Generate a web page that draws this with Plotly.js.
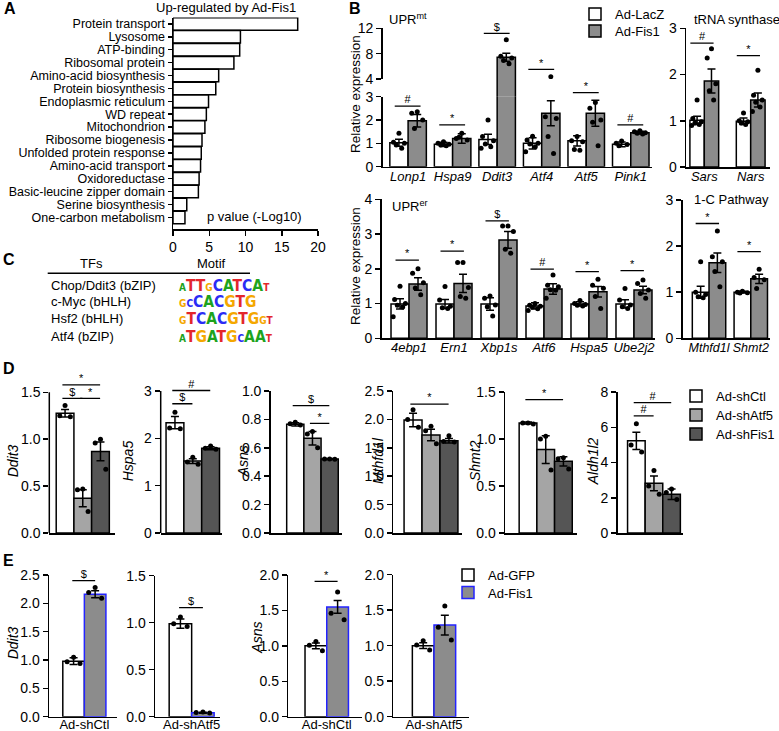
<!DOCTYPE html>
<html><head><meta charset="utf-8">
<script src="https://cdn.plot.ly/plotly-3.0.1.min.js"></script>
<style>html,body{margin:0;padding:0;background:#fff;}#chart{width:779px;height:731px;}</style>
</head><body><div id="chart"></div>
<script>
// ======================= DATA =======================
// Panel A: DAVID terms up-regulated by Ad-Fis1
const aTerms = ["Protein transport","Lysosome","ATP-binding","Ribosomal protein","Amino-acid biosynthesis","Protein biosynthesis","Endoplasmic reticulum","WD repeat","Mitochondrion","Ribosome biogenesis","Unfolded protein response","Amino-acid transport","Oxidoreductase","Basic-leucine zipper domain","Serine biosynthesis","One-carbon metabolism"];
const aNegLog10P = [17.2,9.3,9.2,8.4,6.3,5.9,4.9,4.6,4.4,4.0,3.9,3.8,3.6,3.5,1.9,1.65];
const aTicks = [0,5,10,15,20];

// Panel B: UPRmt
const mtGenes = ["Lonp1","Hspa9","Ddit3","Atf4","Atf5","Pink1"];
const mtLacZ = [1.03,0.96,1.17,1.00,1.11,0.96];
const mtLacZSem = [0.15,0.09,0.22,0.24,0.22,0.10];
const mtFis1 = [1.97,1.21,7.42,2.29,2.29,1.46];
const mtFis1Sem = [0.27,0.20,0.63,0.54,0.56,0.06];
const mtLacZPts = [[1.43,1.05,1.0,0.93,0.79],[1.07,1.0,0.96,0.93,0.9],[2.0,1.29,1.11,0.97,0.86,0.79],[1.31,1.14,1.0,0.97,0.86,0.64],[1.29,1.11,1.07,0.74,0.71],[1.1,1.0,0.95,0.9]];
const mtFis1Pts = [[2.36,2.29,2.0,1.64],[1.43,1.21,1.14,1.26],[10.2,7.6,7.3,6.9,6.4],[4.37,2.14,2.07,1.29,0.57],[2.75,2.5,2.0,1.9,0.9],[1.54,1.5,1.46,1.43,1.4]];
const mtSigSym = ["#","*","$","*","*","#"];
const mtSigLevel = [2.6,1.79,11.2,5.53,3.23,1.79];
const mtTicksLow = [0,1,2,3];
const mtTicksHigh = [4,8,12];

// Panel B: tRNA synthase
const trGenes = ["Sars","Nars"];
const trLacZ = [1.01,0.99];
const trLacZSem = [0.09,0.07];
const trFis1 = [1.86,1.45];
const trFis1Sem = [0.26,0.15];
const trLacZPts = [[1.45,1.05,0.98,0.95,0.92,0.9],[1.17,1.0,0.98,0.95,0.92]];
const trFis1Pts = [[2.56,2.36,1.8,1.65,1.45],[2.09,1.55,1.45,1.4,1.3,1.2]];
const trSigSym = ["#","*"];
const trSigLevel = [2.68,2.41];
const trTicks = [0,1,2,3];

// Panel B: UPRer
const erGenes = ["4ebp1","Ern1","Xbp1s","Atf6","Hspa5","Ube2j2"];
const erLacZ = [0.99,0.99,0.99,0.93,0.99,0.99];
const erLacZSem = [0.15,0.13,0.18,0.09,0.06,0.12];
const erFis1 = [1.56,1.58,2.83,1.42,1.34,1.39];
const erFis1Sem = [0.18,0.26,0.24,0.15,0.15,0.11];
const erLacZPts = [[1.5,1.12,1.0,0.95,0.9,0.62],[1.49,1.1,0.92,0.88,0.86],[1.22,1.15,0.96,0.91,0.64],[1.0,0.95,0.92,0.9,0.85,0.8],[1.09,1.0,0.97,0.95,0.93],[1.43,1.1,0.96,0.91,0.86]];
const erFis1Pts = [[2.0,1.87,1.6,1.45,1.25],[2.18,2.18,1.46,1.2,1.15],[3.23,3.23,3.07,2.56,2.45],[1.82,1.53,1.48,1.4,1.38,1.15],[1.7,1.53,1.44,1.2,0.86],[1.68,1.58,1.39,1.29,1.15]];
const erSigSym = ["*","*","$","#","*","*"];
const erSigLevel = [2.25,2.51,3.38,1.99,1.92,1.95];
const erTicks = [0,1,2,3,4];

// Panel B: 1-C pathway
const ocGenes = ["Mthfd1l","Shmt2"];
const ocLacZ = [1.0,1.0];
const ocLacZSem = [0.13,0.02];
const ocFis1 = [1.64,1.29];
const ocFis1Sem = [0.21,0.10];
const ocLacZPts = [[1.66,1.0,0.95,0.9,0.88],[1.02,1.0,0.99,0.98]];
const ocFis1Pts = [[2.33,1.77,1.66,1.45,1.12],[1.5,1.32,1.27,1.08]];
const ocSigSym = ["*","*"];
const ocSigLevel = [2.49,1.88];
const ocTicks = [0,1,2,3];

// Panel C: motif enrichment
const cTFs = ["Chop/Ddit3 (bZIP)","c-Myc (bHLH)","Hsf2 (bHLH)","Atf4 (bZIP)"];
const cMotifs = ["ATTGCATCAT","GCCACGTG","GTCACGTGGT","ATGATGCAAT"];
const cMotifWeak = [[0,3,9],[0,1],[0,8,9],[0,6,9]];

// Panel D: knockdown
const dGenes = ["Ddit3","Hspa5","Asns","Mthfd1l","Shmt2","Aldh1l2"];
const dCtl = [1.277,2.33,0.765,1.99,1.17,5.23];
const dCtlSem = [0.04,0.13,0.012,0.12,0.01,0.49];
const dAtf5 = [0.37,1.52,0.667,1.725,0.887,2.82];
const dAtf5Sem = [0.09,0.05,0.047,0.10,0.148,0.42];
const dFis1 = [0.87,1.79,0.521,1.625,0.762,2.2];
const dFis1Sem = [0.10,0.03,0.004,0.04,0.05,0.30];
const dCtlPts = [[1.36,1.25,1.24],[2.55,2.22,2.2],[0.78,0.77,0.76],[2.17,2.0,1.86],[1.17,1.17,1.16],[6.2,5.0,4.6]];
const dAtf5Pts = [[0.47,0.46,0.23],[1.6,1.5,1.45],[0.714,0.697,0.6],[1.88,1.8,1.57],[1.03,1.0,0.67],[3.54,2.67,2.2]];
const dFis1Pts = [[1.0,0.96,0.68],[1.84,1.79,1.77],[0.522,0.521,0.52],[1.71,1.61,1.6],[0.8,0.79,0.68],[2.5,2.3,1.9]];
// [from group, to group, level, symbol]
const dSig = [
  [[0,2,1.578,"*"],[0,1,1.436,"$"],[1,2,1.436,"*"]],
  [[0,2,3.01,"#"],[0,1,2.73,"$"]],
  [[0,2,0.897,"$"],[1,2,0.772,"*"]],
  [[0,2,2.27,"*"]],
  [[0,2,1.418,"*"]],
  [[0,2,7.4,"#"],[0,1,6.65,"#"]]
];
const dTickVals = [[0,0.5,1,1.5],[0,1,2,3],[0,0.2,0.4,0.6,0.8,1.0],[0,0.5,1,1.5,2,2.5],[0,0.5,1,1.5],[0,2,4,6,8]];
const dTickText = [["0.0","0.5","1.0","1.5"],["0","1","2","3"],["0.0","0.2","0.4","0.6","0.8","1.0"],["0.0","0.5","1.0","1.5","2.0","2.5"],["0.0","0.5","1.0","1.5"],["0","2","4","6","8"]];

// Panel E: Fis1 overexpression with knockdown
const eGroups = ["Ad-shCtl","Ad-shAtf5","Ad-shCtl","Ad-shAtf5"];
const eGenes = ["Ddit3","","Asns",""];
const eGfp = [0.98,0.99,1.0,1.0];
const eGfpSem = [0.06,0.05,0.04,0.04];
const eFis1 = [2.16,0.043,1.55,1.29];
const eFis1Sem = [0.06,0.005,0.09,0.14];
const eGfpPts = [[1.05,0.97,0.94],[1.06,0.99,0.96],[1.06,1.01,0.93],[1.07,1.01,0.94]];
const eFis1Pts = [[2.28,2.19,2.09],[0.05,0.045,0.04],[1.76,1.46,1.37],[1.56,1.26,1.08]];
const eSigSym = ["$","$","*",""];
const eSigLevel = [2.4,1.16,1.91,null];
const eTickVals = [[0,0.5,1,1.5,2,2.5],[0,0.5,1,1.5],[0,0.5,1,1.5,2],[0,0.5,1,1.5,2]];
const eTickText = [["0.0","0.5","1.0","1.5","2.0","2.5"],["0.0","0.5","1.0","1.5"],["0.0","0.5","1.0","1.5","2.0"],["0.0","0.5","1.0","1.5","2.0"]];

// ======================= DRAWING =======================
const W = 779, H = 731;
const FONT = '"Liberation Sans", Arial, Helvetica, sans-serif';
const WHITE = '#ffffff', GREY = '#8c8c8c', LGREY = '#a5a5a5', DGREY = '#555555', BLUE = '#2323ff';
const JIT = [0, -0.3, 0.3, -0.15, 0.15, -0.38, 0.38];

const layout = {
  width: W, height: H, autosize: false, margin: {l:0, r:0, t:0, b:0, autoexpand: false},
  paper_bgcolor: '#ffffff', plot_bgcolor: 'rgba(0,0,0,0)',
  font: {family: FONT, size: 13, color: '#000'},
  barmode: 'overlay', showlegend: true, hovermode: false,
  annotations: [], shapes: []
};
const traces = [];
const sigTraces = [];
const ann = layout.annotations, shp = layout.shapes;
const px = v => v / W;
const py = v => 1 - v / H;
const axKey = (l, n) => l + 'axis' + (n === 1 ? '' : n);
const axRef = (l, n) => l + (n === 1 ? '' : n);
const idx = arr => arr.map((_, i) => i);

function setX(n, x0, x1, range, anchorY, extra) {
  layout[axKey('x', n)] = Object.assign({
    domain: [px(x0), px(x1)], range: range, anchor: axRef('y', anchorY),
    showline: true, linewidth: 1.5, linecolor: '#000', showgrid: false, zeroline: false,
    ticks: '', showticklabels: false, fixedrange: true, automargin: false
  }, extra || {});
}
function setY(n, top, bottom, range, anchorX, tickvals, ticktext, extra) {
  layout[axKey('y', n)] = Object.assign({
    domain: [py(bottom), py(top)], range: range, anchor: axRef('x', anchorX),
    showline: true, linewidth: 1.5, linecolor: '#000', showgrid: false, zeroline: false,
    ticks: 'outside', ticklen: 5, tickwidth: 1.5, tickcolor: '#000', automargin: false,
    tickmode: 'array', tickvals: tickvals, ticktext: ticktext, tickfont: {size: 14, color: '#000'}, fixedrange: true
  }, extra || {});
}
function text(x, y, t, opts) {
  ann.push(Object.assign({xref: 'paper', yref: 'paper', x: px(x), y: py(y), text: t, showarrow: false,
    xanchor: 'left', yanchor: 'middle', font: {size: 13, color: '#000'}}, opts || {}));
}
function vtext(x, y, t, opts) {
  text(x, y, t, Object.assign({textangle: -90, xanchor: 'center', yanchor: 'middle'}, opts || {}));
}
// one-entry legend box placed so that its swatch centre sits at (x, y) px
function legendAt(key, x, y) {
  layout[key] = {x: px(x - 21), y: py(y), xanchor: 'left', yanchor: 'middle', bgcolor: 'rgba(0,0,0,0)',
    font: {size: 13, color: '#000'}, itemclick: false, itemdoubleclick: false};
}
function bars(xa, ya, xs, mean, sem, off, w, fill, lc, name, legend, showlegend) {
  traces.push({type: 'bar', x: xs, y: mean, xaxis: xa, yaxis: ya, offset: off, width: w,
    marker: {color: fill, line: {color: lc, width: 1.5}},
    error_y: sem ? {type: 'data', array: sem, visible: true, color: '#000', thickness: 1.5, width: 4} : {visible: false},
    name: name, legend: legend, showlegend: !!showlegend, hoverinfo: 'skip'});
}
function dots(xa, ya, xs, ptsList, center, w) {
  const X = [], Y = [];
  ptsList.forEach((pts, i) => pts.forEach((v, k) => { X.push(xs[i] + center + JIT[k % JIT.length] * w); Y.push(v); }));
  traces.push({type: 'scatter', mode: 'markers', x: X, y: Y, xaxis: xa, yaxis: ya,
    marker: {color: '#000', size: 5}, showlegend: false, hoverinfo: 'skip'});
}
// significance bar: a line in data coordinates plus its symbol drawn as a text mark just above it
function sig(xa, ya, x0, x1, lvl, sym) {
  shp.push({type: 'line', xref: xa, yref: ya, x0: x0, x1: x1, y0: lvl, y1: lvl, line: {color: '#000', width: 1.3}});
  sigTraces.push({type: 'scatter', mode: 'text', x: [(x0 + x1) / 2], y: [lvl], text: [sym], xaxis: xa, yaxis: ya,
    textposition: 'top center', textfont: {size: 11, color: '#000000', family: FONT}, cliponaxis: false,
    showlegend: false, hoverinfo: 'skip'});
}

// ---------- Panel A ----------
setX(1, 173, 318, [0, 20], 1, {ticks: 'outside', ticklen: 5, tickwidth: 1.5, tickcolor: '#000', showticklabels: true,
  tickmode: 'array', tickvals: aTicks, ticktext: aTicks.map(String), tickfont: {size: 14, color: '#000'}});
setY(1, 17.5, 229, [15.9, -0.5], 1, idx(aTerms), aTerms, {ticklen: 4, tickfont: {size: 12.5, color: '#000'}});
traces.push({type: 'bar', orientation: 'h', x: aNegLog10P, y: idx(aTerms), width: 0.97, xaxis: 'x', yaxis: 'y',
  marker: {color: WHITE, line: {color: '#000', width: 1.5}}, showlegend: false, hoverinfo: 'skip'});
text(226, 7.5, 'Up-regulated by Ad-Fis1', {xanchor: 'center'});
text(254, 216, 'p value (-Log10)', {xanchor: 'center'});

// ---------- Panel B helper ----------
function twoGroup(xa, yaxes, errOn, dotAxes, cats, w, lacz, laczSem, laczPts, fis, fisSem, fisPts, legendOn) {
  const xs = idx(cats);
  yaxes.forEach((ya, k) => {
    bars(xa, ya, xs, lacz, errOn[k] ? laczSem : null, -w, w, WHITE, '#000', 'Ad-LacZ', 'legend', legendOn && k === 0);
    bars(xa, ya, xs, fis, errOn[k] ? fisSem : null, 0, w, GREY, '#000', 'Ad-Fis1', 'legend2', legendOn && k === 0);
  });
  dotAxes.forEach(ya => {
    dots(xa, ya, xs, laczPts, -w / 2, w);
    dots(xa, ya, xs, fisPts, w / 2, w);
  });
}
const italicTicks = (cats) => ({showticklabels: true, tickmode: 'array', tickvals: idx(cats), ticktext: cats,
  tickangle: 0, ticklabelstandoff: -3, tickfont: {size: 13, style: 'italic', color: '#000'}});

// UPRmt (broken axis: lower 0-3, gap, upper 4-12)
const mtW = 0.41;
setX(2, 382.7, 651.7, [-0.57, 5.47], 2, italicTicks(mtGenes));
setY(2, 96.7, 166.7, [0, 3], 2, mtTicksLow, mtTicksLow.map(String));
setY(3, 79, 96.7, [3, 4], 2, [], [], {showline: false, ticks: '', showticklabels: false});
setY(4, 28.3, 79, [4, 12], 2, mtTicksHigh, mtTicksHigh.map(String));
twoGroup('x2', ['y2', 'y3', 'y4'], [true, false, true], ['y2', 'y4'], mtGenes, mtW,
  mtLacZ, mtLacZSem, mtLacZPts, mtFis1, mtFis1Sem, mtFis1Pts, true);
mtSigLevel.forEach((lv, i) => {
  const ya = lv <= 3 ? 'y2' : (lv < 4 ? 'y3' : 'y4');
  sig('x2', ya, i - 0.3, i + 0.28, lv, mtSigSym[i]);
});
text(386.7, 19, 'UPR<sup>mt</sup>');
vtext(355, 94, 'Relative expression', {font: {size: 13.5, color: '#000'}});
legendAt('legend', 596, 14);
legendAt('legend2', 596, 31);

// tRNA synthase
const trW = 0.31;
setX(3, 686, 770, [-0.394, 1.416], 5, italicTicks(trGenes));
setY(5, 28.3, 167, [0, 3], 3, trTicks, trTicks.map(String));
twoGroup('x3', ['y5'], [true], ['y5'], trGenes, trW, trLacZ, trLacZSem, trLacZPts, trFis1, trFis1Sem, trFis1Pts, false);
trSigLevel.forEach((lv, i) => sig('x3', 'y5', i - 0.3, i + 0.2, lv, trSigSym[i]));
text(691.7, 19, 'tRNA synthase');

// UPRer
const erW = 0.4;
setX(4, 381.7, 655, [-0.607, 5.467], 6, italicTicks(erGenes));
setY(6, 199.3, 338.3, [0, 4], 4, erTicks, erTicks.map(String));
twoGroup('x4', ['y6'], [true], ['y6'], erGenes, erW, erLacZ, erLacZSem, erLacZPts, erFis1, erFis1Sem, erFis1Pts, false);
erSigLevel.forEach((lv, i) => sig('x4', 'y6', i - 0.3, i + 0.22, lv, erSigSym[i]));
text(390, 206, 'UPR<sup>er</sup>');
vtext(355, 266, 'Relative expression', {font: {size: 13.5, color: '#000'}});

// 1-C pathway
const ocW = 0.4;
setX(5, 682.7, 770, [-0.63, 1.46], 7, Object.assign(italicTicks(ocGenes), {tickfont: {size: 12.5, style: 'italic', color: '#000'}}));
setY(7, 200, 338.3, [0, 3], 5, ocTicks, ocTicks.map(String));
twoGroup('x5', ['y7'], [true], ['y7'], ocGenes, ocW, ocLacZ, ocLacZSem, ocLacZPts, ocFis1, ocFis1Sem, ocFis1Pts, false);
ocSigLevel.forEach((lv, i) => sig('x5', 'y7', i - 0.32, i + 0.24, lv, ocSigSym[i]));
text(691.7, 199.3, '1-C Pathway');

// ---------- Panel C ----------
text(91, 263, 'TFs', {xanchor: 'center'});
text(211, 263, 'Motif', {xanchor: 'center'});
shp.push({type: 'line', xref: 'paper', yref: 'paper', x0: px(47.7), x1: px(250), y0: py(273.3), y1: py(273.3), line: {color: '#000', width: 1.5}});
const cRowY = [285.7, 301.7, 319, 336.7];
const LOGO_COL = {A: '#1da31d', C: '#2b2bf5', G: '#f4a700', T: '#e3262b'};
const LOGO_FONT = '"Liberation Sans Narrow", "DejaVu Sans Condensed", sans-serif';
cTFs.forEach((tf, r) => {
  text(49.3, cRowY[r], tf);
  const html = cMotifs[r].split('').map((L, k) => {
    const weak = cMotifWeak[r].indexOf(k) >= 0;
    return '<span style="fill:' + LOGO_COL[L] + ';font-size:' + (weak ? 10 : 15.5) + 'px">' + L + '</span>';
  }).join('');
  text(176.7, cRowY[r], '<b>' + html + '</b>', {font: {size: 15.5, color: '#000', family: LOGO_FONT}});
});

// ---------- Panel D ----------
const dX = [[49.3,115],[160.7,222],[270.7,341.7],[393.3,461.7],[505,576.7],[617.7,683]];
const dXR = [[-1.89,1.82],[-1.8,1.64],[-2.43,1.7],[-2.1,1.71],[-2.3,1.75],[-2.06,1.65]];
const dYR = [[0,1.6],[0,3.05],[0,1],[0,2.5],[0,1.5],[0,8]];
const dTopPx = [382.9, 388.6, 391, 391, 392, 392];
const dLineTop = [1.5, 3, null, null, null, null];
const dTitleX = [13.3, 128.3, 243.3, 378, 475, 593.3];
dGenes.forEach((g, d) => {
  const xn = 6 + d, yn = 8 + d, xa = axRef('x', xn), ya = axRef('y', yn);
  setX(xn, dX[d][0], dX[d][1], dXR[d], yn);
  setY(yn, dTopPx[d], 533, dYR[d], xn, dTickVals[d], dTickText[d], dLineTop[d] !== null ? {showline: false} : {});
  if (dLineTop[d] !== null) {
    shp.push({type: 'line', xref: xa + ' domain', yref: ya, x0: 0, x1: 0, y0: 0, y1: dLineTop[d], line: {color: '#000', width: 1.5}});
  }
  bars(xa, ya, [0], [dCtl[d]], [dCtlSem[d]], -1.5, 1, WHITE, '#000', 'Ad-shCtl', 'legend3', d === 0);
  bars(xa, ya, [0], [dAtf5[d]], [dAtf5Sem[d]], -0.5, 1, LGREY, '#000', 'Ad-shAtf5', 'legend4', d === 0);
  bars(xa, ya, [0], [dFis1[d]], [dFis1Sem[d]], 0.5, 1, DGREY, '#000', 'Ad-shFis1', 'legend5', d === 0);
  dots(xa, ya, [0], [dCtlPts[d]], -1, 1);
  dots(xa, ya, [0], [dAtf5Pts[d]], 0, 1);
  dots(xa, ya, [0], [dFis1Pts[d]], 1, 1);
  dSig[d].forEach(s => sig(xa, ya, (s[0] - 1) - 0.15, (s[1] - 1) - 0.02, s[2], s[3]));
  vtext(dTitleX[d], 461, '<i>' + g + '</i>', {font: {size: 14, color: '#000'}});
});
legendAt('legend3', 697, 396);
legendAt('legend4', 697, 415);
legendAt('legend5', 697, 434);

// ---------- Panel E ----------
const eX = [[49,116.7],[155,220],[288.3,361.7],[393.3,469.3]];
const eXR = [[-1.64,1.5],[-1.63,1.26],[-1.77,1.61],[-1.88,1.63]];
const eYR = [[0,2.5],[0,1.5],[0,2],[0,2]];
const eTopPx = [575, 575.7, 575, 574.7];
const eTitleX = [13.3, 0, 256.7, 0];
eGroups.forEach((grp, e) => {
  const xn = 12 + e, yn = 14 + e, xa = axRef('x', xn), ya = axRef('y', yn);
  setX(xn, eX[e][0], eX[e][1], eXR[e], yn, {showticklabels: true, tickmode: 'array', tickvals: [0], ticktext: [grp],
    tickangle: 0, ticklabelstandoff: -5, tickfont: {size: 13, color: '#000'}});
  setY(yn, eTopPx[e], 716.7, eYR[e], xn, eTickVals[e], eTickText[e]);
  bars(xa, ya, [0], [eGfp[e]], [eGfpSem[e]], -1, 1, WHITE, '#000', 'Ad-GFP', 'legend6', e === 0);
  bars(xa, ya, [0], [eFis1[e]], [eFis1Sem[e]], 0, 1, GREY, BLUE, 'Ad-Fis1', 'legend7', e === 0);
  dots(xa, ya, [0], [eGfpPts[e]], -0.5, 1);
  dots(xa, ya, [0], [eFis1Pts[e]], 0.5, 1);
  if (eSigLevel[e] !== null) sig(xa, ya, -0.56, 0.5, eSigLevel[e], eSigSym[e]);
  if (eGenes[e]) vtext(eTitleX[e], e === 0 ? 643 : 638, '<i>' + eGenes[e] + '</i>', {font: {size: 14, color: '#000'}});
});
legendAt('legend6', 469, 575);
legendAt('legend7', 469, 592.5);

// ---------- Panel letters ----------
[['A',2,8],['B',347,8],['C',1,260],['D',1,368],['E',1,560]].forEach(p =>
  text(p[1], p[2], '<b>' + p[0] + '</b>', {font: {size: 16, color: '#000'}}));

Plotly.newPlot('chart', traces.concat(sigTraces), layout, {displayModeBar: false, staticPlot: true});
</script></body></html>
